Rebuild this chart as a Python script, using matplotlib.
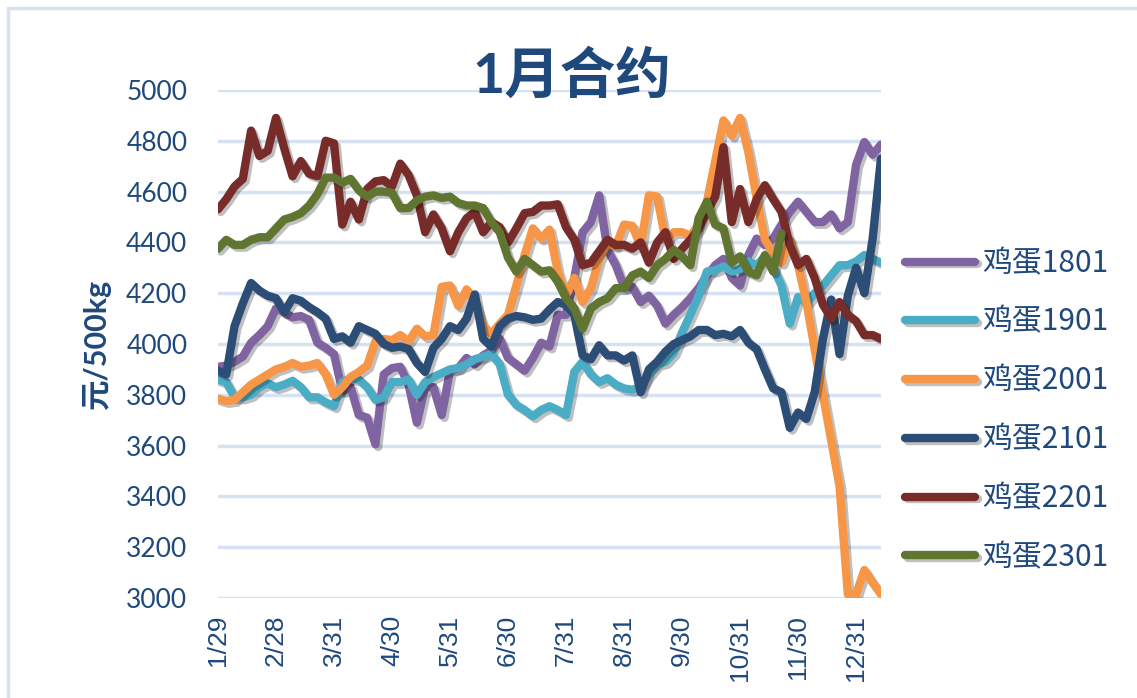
import matplotlib
matplotlib.use("Agg")
import matplotlib.pyplot as plt
import matplotlib.patheffects as pe
from matplotlib.patches import Rectangle
import numpy as np

plt.rcParams['font.family'] = ['Lato', 'Noto Sans CJK SC', 'DejaVu Sans']

# 数据 (每3个交易日取一个点)
tick_labels = ["1/29", "2/28", "3/31", "4/30", "5/31", "6/30",
               "7/31", "8/31", "9/30", "10/31", "11/30", "12/31"]

egg_1801 = [3910, 3915, 3930, 3950, 4005, 4035, 4070, 4140, 4125, 4105, 4110,
            4095, 4005, 3985, 3960, 3815, 3830, 3720, 3710, 3605, 3880,
            3905, 3910, 3840, 3690, 3830, 3830, 3720, 3895, 3905, 3945,
            3920, 3955, 3975, 4020, 3945, 3920, 3895, 3945, 4005, 3990,
            4115, 4115, 4260, 4440, 4480, 4585, 4370, 4310, 4225, 4225,
            4165, 4190, 4150, 4080, 4115, 4145, 4180, 4220, 4270, 4310,
            4335, 4260, 4230, 4350, 4415, 4390, 4415, 4470, 4520, 4560,
            4520, 4480, 4480, 4510, 4455, 4480, 4705, 4795, 4745, 4785]

egg_1901 = [3860, 3850, 3790, 3790, 3800, 3830, 3845, 3830, 3840, 3855, 3830,
            3790, 3790, 3770, 3755, 3850, 3865, 3860, 3830, 3780, 3790,
            3850, 3850, 3860, 3800, 3850, 3870, 3885, 3900, 3905, 3920,
            3940, 3950, 3960, 3920, 3800, 3760, 3740, 3715, 3740, 3755,
            3740, 3720, 3890, 3930, 3880, 3850, 3865, 3840, 3825, 3820,
            3830, 3880, 3920, 3930, 3965, 4045, 4115, 4190, 4285, 4290,
            4305, 4285, 4295, 4325, 4310, 4345, 4300, 4230, 4080, 4185,
            4160, 4200, 4230, 4270, 4310, 4310, 4325, 4350, 4335, 4320]

egg_2001 = [3785, 3775, 3780, 3810, 3840, 3860, 3880, 3900, 3910, 3925, 3910,
            3915, 3925, 3880, 3800, 3830, 3870, 3890, 3915, 4010, 4020,
            4015, 4035, 4010, 4060, 4030, 4035, 4225, 4230, 4150, 4215,
            4165, 4070, 4040, 4080, 4115, 4230, 4350, 4455, 4415, 4450,
            4285, 4190, 4260, 4165, 4220, 4335, 4395, 4385, 4470, 4465,
            4385, 4585, 4580, 4410, 4440, 4440, 4425, 4470, 4560, 4720,
            4880, 4820, 4890, 4755, 4575, 4410, 4360, 4320, 4410, 4310,
            4165, 3980, 3800, 3620, 3440, 3015, 3015, 3110, 3060, 3015]

egg_2101 = [3895, 3880, 4070, 4160, 4240, 4210, 4190, 4180, 4125, 4180, 4170,
            4145, 4125, 4100, 4020, 4030, 4005, 4070, 4055, 4040, 4000,
            3985, 3990, 3980, 3925, 3890, 3985, 4020, 4070, 4055, 4100,
            4195, 4020, 3990, 4070, 4100, 4110, 4105, 4095, 4100, 4135,
            4165, 4155, 4115, 3955, 3940, 3995, 3955, 3955, 3935, 3955,
            3810, 3900, 3930, 3970, 4000, 4015, 4030, 4055, 4055, 4035,
            4040, 4030, 4055, 4005, 3980, 3900, 3825, 3810, 3670, 3730,
            3705, 3810, 4020, 4175, 3960, 4190, 4300, 4200, 4415, 4730]

egg_2201 = [4530, 4570, 4620, 4650, 4840, 4740, 4760, 4890, 4770, 4660, 4720,
            4670, 4660, 4800, 4790, 4470, 4560, 4490, 4610, 4640, 4645,
            4620, 4710, 4665, 4585, 4440, 4510, 4455, 4365, 4440, 4495,
            4520, 4440, 4480, 4460, 4400, 4455, 4515, 4520, 4545, 4545,
            4550, 4460, 4410, 4310, 4320, 4365, 4410, 4390, 4390, 4375,
            4400, 4320, 4400, 4440, 4335, 4375, 4410, 4455, 4520, 4580,
            4775, 4480, 4610, 4480, 4570, 4625, 4570, 4520, 4390, 4310,
            4335, 4260, 4155, 4100, 4165, 4115, 4090, 4035, 4035, 4020]

egg_2301 = [4375, 4410, 4390, 4390, 4410, 4420, 4420, 4455, 4490, 4500, 4515,
            4545, 4590, 4655, 4655, 4635, 4650, 4605, 4580, 4600, 4600,
            4595, 4535, 4535, 4565, 4580, 4585, 4575, 4580, 4555, 4545,
            4545, 4535, 4480, 4440, 4340, 4285, 4335, 4310, 4285, 4290,
            4245, 4180, 4140, 4060, 4140, 4165, 4180, 4220, 4220, 4270,
            4285, 4260, 4310, 4335, 4370, 4345, 4310, 4495, 4560, 4470,
            4455, 4320, 4345, 4285, 4270, 4350, 4285, 4435]

series = [("鸡蛋1801", egg_1801, "#8064A2"),
          ("鸡蛋1901", egg_1901, "#4BACC6"),
          ("鸡蛋2001", egg_2001, "#F79646"),
          ("鸡蛋2101", egg_2101, "#2C4D75"),
          ("鸡蛋2201", egg_2201, "#772C2A"),
          ("鸡蛋2301", egg_2301, "#5F7530")]

text_color = "#1F497D"

fig = plt.figure(figsize=(11.37, 6.98), dpi=100)
ax = fig.add_axes([0.1917, 0.1433, 0.5831, 0.7278])

shadow = [pe.SimpleLineShadow(offset=(2, -2), shadow_color="k", alpha=0.25),
          pe.Normal()]

for name, vals, col in series:
    ax.plot(np.arange(len(vals)), vals, color=col, lw=6, label=name,
            solid_capstyle="round", solid_joinstyle="round",
            path_effects=shadow)

ax.set_xlim(0, 80)
ax.set_ylim(3000, 5000)
ax.set_yticks(np.arange(3000, 5001, 200))
ax.set_xticks(np.arange(0, 78, 7))
ax.set_xticklabels(tick_labels, rotation=90, fontsize=19,
                   family="Liberation Sans", color=text_color)
for t in ax.get_yticklabels():
    t.set_fontsize(19)
    t.set_color(text_color)
ax.tick_params(axis="both", length=0)
ax.tick_params(axis="y", pad=22)
ax.tick_params(axis="x", pad=12)
ax.yaxis.grid(True, color="#D6E2F2", lw=2.5)
ax.set_axisbelow(True)
for s in ax.spines.values():
    s.set_visible(False)

fig.text(0.503, 1 - 75 / 698, "1月合约", ha="center", va="center",
         fontsize=40, fontweight="bold", color=text_color,
         family=["Lato", "Noto Sans CJK SC"])
fig.text(97 / 1137, 1 - 345 / 698, "元/500kg", rotation=90, ha="center",
         va="center", fontsize=22, fontweight="bold", color=text_color,
         family=["Lato", "Noto Sans CJK SC"])

leg = fig.legend(loc="upper left", bbox_to_anchor=(905 / 1137, 1 - 248 / 698),
                 bbox_transform=fig.transFigure, frameon=False, fontsize=21.5,
                 handlelength=2.35, handletextpad=0.25, labelspacing=0.93,
                 borderpad=0, borderaxespad=0)
for t in leg.get_texts():
    t.set_color(text_color)
    t.set_family(["Noto Sans CJK SC", "Lato"])

fig.patches.append(Rectangle((8 / 1137, -0.1), 1.2, (1 - 8 / 698) + 0.1,
                             transform=fig.transFigure, fill=False,
                             edgecolor="#D6E2F2", lw=2.5))

fig.savefig("out.png", dpi=100)
